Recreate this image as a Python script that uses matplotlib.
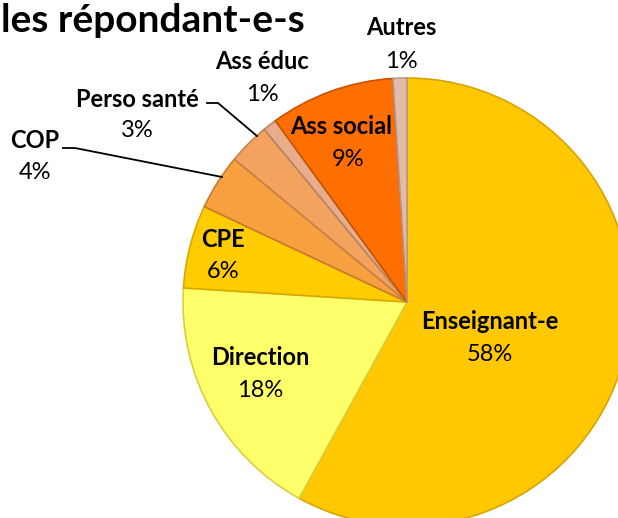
import matplotlib.pyplot as plt
import numpy as np

plt.rcParams['font.family'] = ['Lato', 'DejaVu Sans']

# data
categories = ["Enseignant-e", "Direction", "CPE", "COP", "Perso santé",
              "Ass éduc", "Ass social", "Autres"]
values = [58, 18, 6, 4, 3, 1, 9, 1]
colors = ["#FFC800", "#FFFF6A", "#FFCC00", "#F7A040", "#F4A35E",
          "#E8AE8C", "#FF6E00", "#E2BBAA"]
edges = ["#D9A300", "#D8D040", "#D9A800", "#C87A2A", "#C9804A",
         "#B88466", "#C85300", "#B89585"]

# pixel geometry of the reference (centre and radius of the pie)
W, H = 618, 518
CX, CY, R = 407, 302, 224


def px(x, y):
    return (x - CX) / R, (CY - y) / R


# label positions (pixels: name centre, percent centre)
label_pos = {
    "Enseignant-e": ((490, 322), (490, 355)),
    "Direction": ((260, 358), (260, 391)),
    "CPE": ((223, 240), (223, 272)),
    "COP": ((35, 141), (35, 173)),
    "Perso santé": ((137, 100), (137, 131)),
    "Ass éduc": ((262, 62), (262, 95)),
    "Ass social": ((341, 127), (348, 160)),
    "Autres": ((401, 28), (401, 62)),
}
# leader lines (pixels)
leaders = {
    "COP": [(63, 148), (75, 148), (222, 177)],
    "Perso santé": [(207, 103), (218, 103), (257, 136)],
}

fig = plt.figure(figsize=(W / 100, H / 100), dpi=100)
ax = fig.add_axes([0, 0, 1, 1])

wedges, _ = ax.pie(values, colors=colors, startangle=90, counterclock=False,
                   radius=1.0, center=(0, 0), frame=True,
                   wedgeprops=dict(linewidth=1.2))
for w, ec in zip(wedges, edges):
    w.set_edgecolor(ec)

ax.set_xlim(-CX / R, (W - CX) / R)
ax.set_ylim(-(H - CY) / R, CY / R)
ax.set_aspect('equal')
ax.axis('off')

for cat, val in zip(categories, values):
    (nx, ny), (vx, vy) = label_pos[cat]
    ax.text(*px(nx, ny), cat, ha='center', va='center', fontsize=17,
            fontweight='bold', color='black')
    ax.text(*px(vx, vy), f"{val}%", ha='center', va='center', fontsize=17,
            color='black')

for cat, pts in leaders.items():
    xs, ys = zip(*[px(x, y) for x, y in pts])
    ax.plot(xs, ys, color='black', linewidth=1.3)

ax.text(*px(1, 21), "les répondant-e-s", ha='left', va='center',
        fontsize=28, fontweight='bold', color='black')

fig.savefig("out.png", dpi=100)
